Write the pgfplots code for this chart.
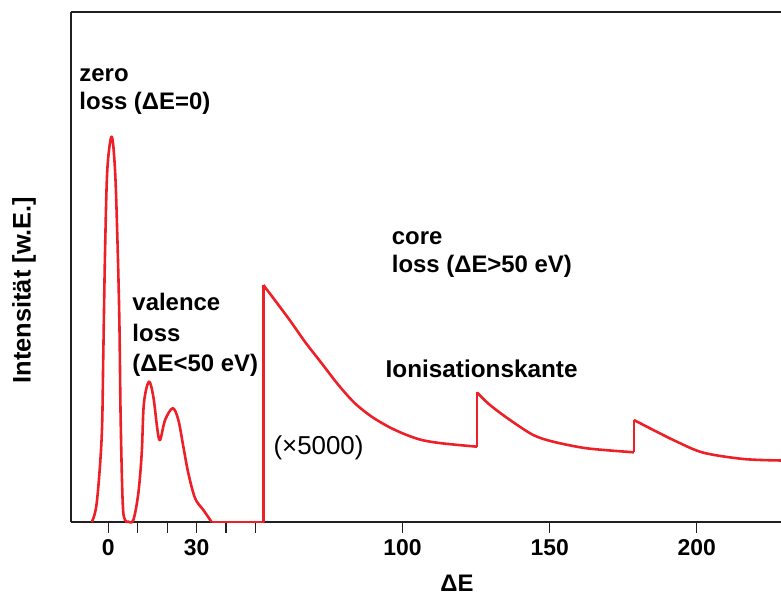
\documentclass[border=0pt]{standalone}
\usepackage{fontspec}
\setmainfont{Liberation Sans}
\usepackage{pgfplots}
\pgfplotsset{compat=1.18}
\definecolor{spec}{RGB}{236,32,38}
\definecolor{ink}{RGB}{35,31,32}
\newcommand{\lbl}{\fontsize{24}{29}\selectfont\bfseries}
\pgfplotsset{spectrum/.style={spec, line width=2.6pt, line join=round}}
\begin{document}
\begin{tikzpicture}[x=1bp,y=1bp]
\begin{axis}[
  at={(0,0)}, anchor=south west,
  scale only axis, width=710bp, height=510bp,
  xmin=-12.68, xmax=228.6, ymin=0, ymax=510,
  axis x line*=bottom, axis y line*=left,
  axis line style={ink, line width=1.8pt},
  ytick=\empty,
  xtick={0,10,20,30,40,50,100,150,200},
  xticklabels={0,,,30,,,100,150,200},
  tick align=outside,
  major tick length=11bp,
  tick style={ink, line width=1.2pt},
  xticklabel style={font=\fontsize{23}{27}\selectfont\bfseries, inner sep=0pt, yshift=-6bp},
  clip=false,
]
% top frame line
\draw[ink, line width=1.8pt] (rel axis cs:0,1) -- (rel axis cs:1,1);

% zero-loss peak and valence (plasmon) region
\addplot[spectrum, smooth, tension=0.55] coordinates {
  (-5.64,0) (-3.95,18.7) (-2.25,85) (-1.70,168.7) (-1.12,268.7) (-0.34,352)
  (1.14,385.3) (2.28,352) (3.07,285) (3.75,202) (4.2,102) (4.9,18.7)
  (5.68,2) (6.8,0.3) (8.5,2) (10.2,28.7) (11.35,68.7) (12.1,118.7)
  (13.8,140.3) (15.3,125.3) (16.7,92) (17.6,82) (19.3,102) (21.9,113.7)
  (23.8,102) (25.5,75.3) (27.2,48.7) (29.5,23.7) (32.3,12) (35.1,0)
};
% flat stretch before the first edge
\addplot[spectrum] coordinates {(35.1,0) (52.7,0) (52.7,237)};

% first core-loss edge
\addplot[spectrum, smooth, tension=0.5] coordinates {
  (52.7,237) (61.2,203.7) (66.8,180.3) (72.5,158.7) (78.2,137) (83.8,118.7)
  (89.5,105.3) (95.2,95.3) (100.8,87.7) (106.5,82) (113.3,78.7) (125.3,75.3)
};
\addplot[spectrum] coordinates {(125.3,75.3) (125.3,129.5)};

% ionisation edge
\addplot[spectrum, smooth, tension=0.5] coordinates {
  (125.3,129.5) (129.7,117) (136.5,102) (144.4,87) (151.2,80.3) (162.6,73.7) (178.6,69.7)
};
\addplot[spectrum] coordinates {(178.6,69.7) (178.6,102)};

% third edge
\addplot[spectrum, smooth, tension=0.5] coordinates {
  (178.6,102) (185.2,92) (193.2,80.3) (202.2,69.3) (215.8,63) (228.6,61.5)
};
\end{axis}

% annotations
\node[anchor=base west, inner sep=0pt, font=\lbl] at (8.3,440.3) {zero};
\node[anchor=base west, inner sep=0pt, font=\lbl] at (8.3,412.7) {loss (ΔE=0)};
\node[anchor=base west, inner sep=0pt, font=\lbl] at (320.7,277) {core};
\node[anchor=base west, inner sep=0pt, font=\lbl] at (320.7,249.7) {loss (ΔE>50 eV)};
\node[anchor=base west, inner sep=0pt, font=\lbl] at (61.3,211.3) {valence};
\node[anchor=base west, inner sep=0pt, font=\lbl] at (61.3,180.5) {loss};
\node[anchor=base west, inner sep=0pt, font=\lbl] at (61.3,150.3) {(ΔE<50 eV)};
\node[anchor=base west, inner sep=0pt, font=\fontsize{24.4}{29}\selectfont\bfseries] at (314.5,144) {Ionisationskante};
\node[anchor=base west, inner sep=0pt, font=\fontsize{26}{31}\selectfont] at (202.3,67) {(×5000)};

% axis titles
\node[rotate=90, inner sep=0pt, font=\fontsize{25.5}{30}\selectfont\bfseries] at (-47,232) {Intensität [w.E.]};
\node[anchor=base, inner sep=0pt, font=\lbl] at (386,-70) {ΔE};

\pgfresetboundingbox
\path (-71,-74) rectangle (710,522);
\end{tikzpicture}
\end{document}
